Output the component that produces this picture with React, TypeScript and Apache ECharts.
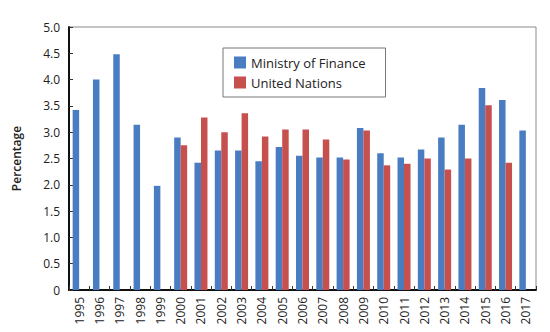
import React, { useEffect, useRef } from "react";
import * as echarts from "echarts";

const years = ["1995","1996","1997","1998","1999","2000","2001","2002","2003","2004","2005","2006","2007","2008","2009","2010","2011","2012","2013","2014","2015","2016","2017"];
const ministryOfFinance = [3.42, 4.0, 4.48, 3.14, 1.98, 2.9, 2.42, 2.65, 2.65, 2.45, 2.72, 2.55, 2.52, 2.52, 3.08, 2.6, 2.52, 2.67, 2.9, 3.14, 3.84, 3.61, 3.03];
const unitedNations = [null, null, null, null, null, 2.75, 3.28, 3.0, 3.36, 2.92, 3.05, 3.05, 2.86, 2.48, 3.03, 2.37, 2.4, 2.5, 2.29, 2.5, 3.51, 2.42, null];
const seriesNames = ["Ministry of Finance", "United Nations"];

const FONT = "'Open Sans', 'Noto Sans', sans-serif";

export default function App() {
  const ref = useRef<HTMLDivElement>(null);
  useEffect(() => {
    if (!ref.current) return;
    const chart = echarts.init(ref.current, undefined, { renderer: "svg" });
    chart.setOption({
      animation: false,
      backgroundColor: "#ffffff",
      textStyle: { fontFamily: FONT },
      grid: { left: 69, right: 14, top: 27, bottom: 42, show: true, borderColor: "#8a8a8a", borderWidth: 1 },
      legend: {
        data: seriesNames,
        orient: "vertical",
        left: 223,
        top: 48,
        width: 153,
        padding: [8, 20, 8, 11],
        itemWidth: 12,
        itemHeight: 12,
        itemGap: 7,
        borderColor: "#777",
        borderWidth: 1,
        icon: "rect",
        textStyle: { fontFamily: FONT, fontSize: 13, color: "#222" },
      },
      xAxis: {
        type: "category",
        data: years,
        axisLine: { lineStyle: { color: "#111", width: 2 } },
        axisTick: { show: true, inside: true, length: 4, lineStyle: { color: "#333" } },
        axisLabel: { rotate: 90, fontSize: 12, color: "#222", margin: 7, fontFamily: FONT, interval: 0 },
      },
      yAxis: {
        type: "value",
        min: 0,
        max: 5,
        interval: 0.5,
        name: "Percentage",
        nameLocation: "middle",
        nameGap: 47,
        nameTextStyle: { fontSize: 12, fontWeight: 600, color: "#222", fontFamily: FONT },
        axisLine: { show: true, lineStyle: { color: "#111", width: 2 } },
        axisTick: { show: true, inside: true, length: 4, lineStyle: { color: "#333" } },
        splitLine: { show: false },
        axisLabel: {
          fontSize: 12,
          color: "#222",
          margin: 9,
          fontFamily: FONT,
          formatter: (v: number) => (v === 0 ? "0" : v.toFixed(1)),
        },
      },
      series: [
        {
          name: seriesNames[0],
          type: "bar",
          data: ministryOfFinance,
          barWidth: 6.5,
          barGap: "0%",
          itemStyle: { color: "#4a7cc2" },
        },
        {
          name: seriesNames[1],
          type: "bar",
          data: unitedNations,
          barWidth: 6.5,
          barGap: "0%",
          itemStyle: { color: "#c5504e" },
        },
      ],
    });
    return () => chart.dispose();
  }, []);
  return <div ref={ref} style={{ width: 550, height: 332, position: "absolute", left: 0, top: 0 }} />;
}
